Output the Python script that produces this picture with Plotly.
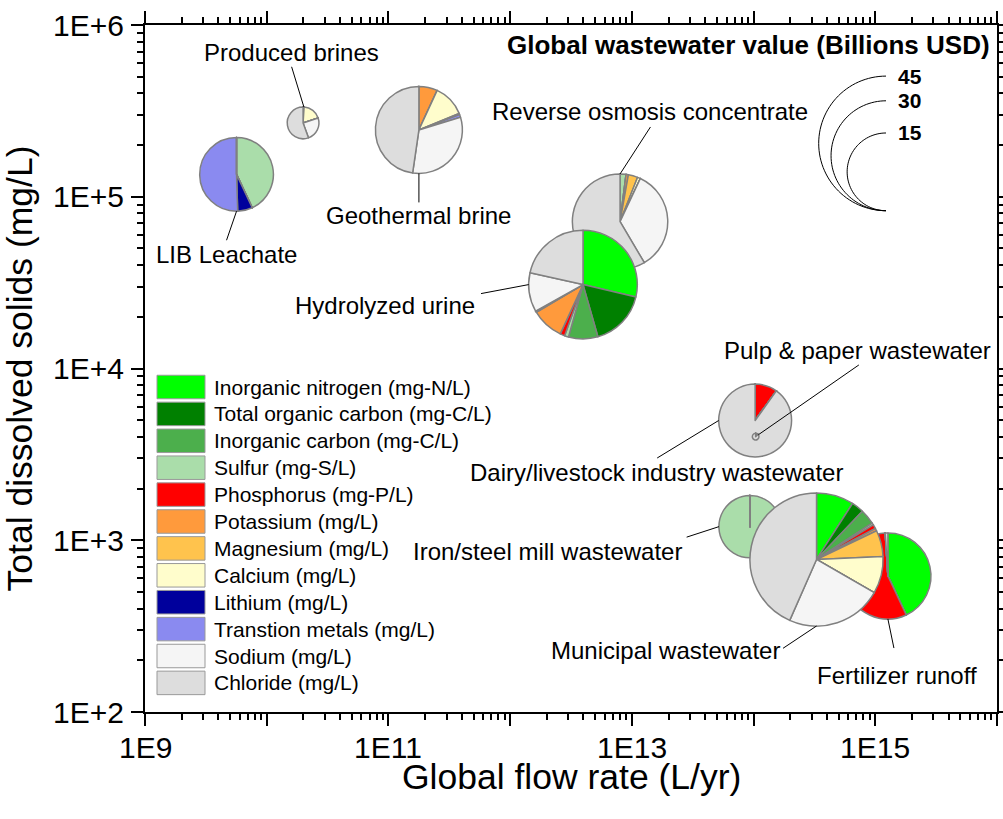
import math
import plotly.graph_objects as go

# ------------------------------------------------------------------ data
components = [
    "Inorganic nitrogen (mg-N/L)", "Total organic carbon (mg-C/L)", "Inorganic carbon (mg-C/L)",
    "Sulfur (mg-S/L)", "Phosphorus (mg-P/L)", "Potassium (mg/L)", "Magnesium (mg/L)",
    "Calcium (mg/L)", "Lithium (mg/L)", "Transtion metals (mg/L)", "Sodium (mg/L)", "Chloride (mg/L)",
]
component_colors = ["#00FF00", "#008000", "#4CAF4C", "#AADDAA", "#FF0000", "#FF9A3C",
                    "#FFC34D", "#FFFDCC", "#00009C", "#8A8AF0", "#F5F5F5", "#DDDDDD"]

# drawing order (later = on top)
sources = ["Produced brines", "LIB Leachate", "Geothermal brine", "Reverse osmosis concentrate",
           "Hydrolyzed urine", "Dairy/livestock industry wastewater", "Pulp & paper wastewater",
           "Iron/steel mill wastewater", "Fertilizer runoff", "Municipal wastewater"]
flow_rate = [1.99e10, 5.65e9, 1.78e11, 8.0e12, 3.97e12, 1.03e14, 1.04e14, 9.35e13, 1.27e15, 3.29e14]  # L/yr
tds = [2.69e5, 1.35e5, 2.45e5, 7.16e4, 3.08e4, 4.98e3, 4.01e3, 1.20e3, 619, 773]  # mg/L
value_busd = [2.5, 13.5, 18.8, 22.6, 29.3, 13.2, 0.11, 9.6, 18.4, 44.0]  # Billions USD

# composition shares (%) in component order
produced_brines = [0, 0, 0, 0, 0, 0.5, 0.5, 19.0, 0, 0, 24.5, 55.5]
lib_leachate = [0, 0, 0, 43.0, 0, 0, 0, 0, 6.5, 50.5, 0, 0]
geothermal_brine = [0, 0, 0, 0, 0, 6.9, 0, 11.9, 0.5, 1.0, 32.0, 47.7]
ro_concentrate = [0, 0, 0, 2.0, 0, 0.8, 3.2, 1.0, 0, 0, 34.5, 58.5]
hydrolyzed_urine = [28.9, 17.1, 8.8, 1.2, 1.4, 9.7, 0.2, 0.2, 0, 0, 11.7, 21.7]
dairy_livestock = [0, 0, 0, 0, 9.9, 0, 0, 0, 0, 0, 0, 90.1]
pulp_paper = [0, 0, 0, 0, 12.0, 0, 0, 0, 0, 0, 0, 88.0]
iron_steel = [0, 0, 0, 99.9, 0, 0, 0, 0, 0, 0, 0, 0.1]
fertilizer_runoff = [43.0, 0, 0, 0, 56.0, 0, 0, 0, 0, 0, 0, 1.0]
municipal_ww = [9.1, 3.0, 3.7, 0.5, 1.0, 0.6, 6.4, 9.0, 0, 0, 23.3, 43.4]
compositions = [produced_brines, lib_leachate, geothermal_brine, ro_concentrate, hydrolyzed_urine,
                dairy_livestock, pulp_paper, iron_steel, fertilizer_runoff, municipal_ww]

size_legend_values = [45, 30, 15]

x_tick_vals = [1e9, 1e10, 1e11, 1e12, 1e13, 1e14, 1e15, 1e16]
x_tick_text = ["1E9", "", "1E11", "", "1E13", "", "1E15", ""]
y_tick_vals = [1e2, 1e3, 1e4, 1e5, 1e6]
y_tick_text = ["1E+2", "1E+3", "1E+4", "1E+5", "1E+6"]

# ------------------------------------------------------------------ layout constants
W, H = 1003, 819
ML, MR, MT, MB = 145, 6, 25, 107
PW, PH = W - ML - MR, H - MT - MB
XR, YR = (9, 16), (2, 6)
R_MAX = 67.3          # pixel radius of a 45 B$ circle
FONT = "Liberation Sans, Arial, sans-serif"

# leader-line geometry (tip angle on the pie edge, line start and text centre offsets in px from tip)
label_geom = {
    "Produced brines": (3, (-12.3, -40.3), (-12, -55)),
    "LIB Leachate": (180, (-10, 29), (-10.5, 43)),
    "Geothermal brine": (180, (0, 29), (0, 42)),
    "Reverse osmosis concentrate": (0, (30.4, -47), (30, -62)),
    "Hydrolyzed urine": (270, (-47.7, 9), (-143.7, 21)),
    "Dairy/livestock industry wastewater": (270, (-61.5, 37.5), (-62.5, 51.5)),
    "Pulp & paper wastewater": (55, (100.5, -69.8), (99.3, -83.8)),
    "Iron/steel mill wastewater": (270, (-32.3, 10.5), (-171.5, 24.5)),
    "Fertilizer runoff": (180, (6, 29), (9.5, 56)),
    "Municipal wastewater": (180, (-33.5, 22.3), (-151, 24)),
}


def radius_px(v):
    return R_MAX * math.sqrt(v / size_legend_values[0])


def data_to_paper(xd, yd):
    return ((math.log10(xd) - XR[0]) / (XR[1] - XR[0]), (math.log10(yd) - YR[0]) / (YR[1] - YR[0]))


def px_to_paper(px, py):
    return ((px - ML) / PW, (MT + PH - py) / PH)


fig = go.Figure()

# invisible anchor points so the cartesian axes exist
fig.add_trace(go.Scatter(x=flow_rate, y=tds, mode="markers", marker=dict(opacity=0, size=1),
                         text=sources, hoverinfo="text", showlegend=False))

shapes = []
annotations = []

for name, fx, ty, val, comp in zip(sources, flow_rate, tds, value_busd, compositions):
    cx, cy = data_to_paper(fx, ty)
    r = radius_px(val)
    dx, dy = r / PW, r / PH
    fig.add_trace(go.Pie(
        labels=components, values=comp, sort=False, direction="clockwise", rotation=0,
        marker=dict(colors=component_colors, line=dict(color="#808080", width=1.5)),
        textinfo="none", hoverinfo="label+percent", showlegend=False, name=name,
        domain=dict(x=[cx - dx, cx + dx], y=[cy - dy, cy + dy]),
    ))
    ang, (sx, sy), (tx, ty_) = label_geom[name]
    tip_x = r * math.sin(math.radians(ang))
    tip_y = -r * math.cos(math.radians(ang))
    px0 = cx + tip_x / PW
    py0 = cy - tip_y / PH
    shapes.append(dict(type="line", xref="paper", yref="paper", layer="above",
                       x0=px0, y0=py0, x1=px0 + sx / PW, y1=py0 - sy / PH,
                       line=dict(color="black", width=1)))
    annotations.append(dict(xref="paper", yref="paper", x=px0 + tx / PW, y=py0 - ty_ / PH,
                            text=name, showarrow=False, xanchor="center", yanchor="middle",
                            font=dict(family=FONT, size=24, color="black")))

# ---- size legend
bx, by = 886, 210.7
for v in size_legend_values:
    r = radius_px(v)
    pts = []
    for k in range(61):
        phi = math.pi * k / 60
        px = bx - r * math.sin(phi)
        py = by - r - r * math.cos(phi)
        pts.append(px_to_paper(px, py))
    path = "M " + " L ".join(f"{p[0]:.5f},{p[1]:.5f}" for p in pts)
    shapes.append(dict(type="path", xref="paper", yref="paper", path=path, layer="above",
                       line=dict(color="black", width=1)))
    lx, ly = px_to_paper(bx + 10, by - 2 * r)
    annotations.append(dict(xref="paper", yref="paper", x=lx, y=ly, text=f"<b>{v}</b>",
                            showarrow=False, xanchor="left", yanchor="middle",
                            font=dict(family=FONT, size=21, color="black")))
tx, ty_ = px_to_paper(748, 45)
annotations.append(dict(xref="paper", yref="paper", x=tx, y=ty_,
                        text="<b>Global wastewater value (Billions USD)</b>", showarrow=False,
                        xanchor="center", yanchor="middle",
                        font=dict(family=FONT, size=26, color="black")))

# ---- colour legend
row0, pitch, sw_h = 387, 26.9, 23.5
for i, (lab, col) in enumerate(zip(components, component_colors)):
    yc = row0 + i * pitch
    x0, y0 = px_to_paper(157, yc - sw_h / 2)
    x1, y1 = px_to_paper(205, yc + sw_h / 2)
    shapes.append(dict(type="rect", xref="paper", yref="paper", x0=x0, y0=y0, x1=x1, y1=y1,
                       fillcolor=col, line=dict(color="#999999", width=1), layer="above"))
    lx, ly = px_to_paper(212, yc)
    annotations.append(dict(xref="paper", yref="paper", x=lx, y=ly, text=lab, showarrow=False,
                            xanchor="left", yanchor="middle",
                            font=dict(family=FONT, size=21, color="black")))

# ---- x tick labels and x title (placed below the axis)
_, y_lab = px_to_paper(0, 748)
for v, t in zip(x_tick_vals, x_tick_text):
    if t:
        annotations.append(dict(xref="x", yref="paper", x=math.log10(v), y=y_lab, text=t,
                                showarrow=False, xanchor="center", yanchor="middle",
                                font=dict(family=FONT, size=30, color="black")))
xt, yt = px_to_paper(0, 777)
annotations.append(dict(xref="paper", yref="paper", x=0.5, y=yt, text="Global flow rate (L/yr)",
                        showarrow=False, xanchor="center", yanchor="middle",
                        font=dict(family=FONT, size=35.5, color="black")))

x_minor = [m * 10 ** k for k in range(9, 16) for m in range(2, 10)]
y_minor = [m * 10 ** k for k in range(2, 6) for m in range(2, 10)]

axis_common = dict(type="log", showgrid=False, zeroline=False, showline=True, linecolor="black",
                   linewidth=2, mirror="ticks", ticks="outside", ticklen=12, tickwidth=2,
                   tickcolor="black", tickfont=dict(family=FONT, size=30, color="black"),
                   tickmode="array", automargin=False)

fig.update_layout(
    width=W, height=H, margin=dict(l=ML, r=MR, t=MT, b=MB),
    paper_bgcolor="white", plot_bgcolor="white", showlegend=False,
    font=dict(family=FONT, color="black"),
    xaxis=dict(**axis_common, range=list(XR), tickvals=x_tick_vals, ticktext=x_tick_text,
               showticklabels=False,
               minor=dict(tickmode="array", tickvals=x_minor, ticks="outside", ticklen=6,
                          tickwidth=1.5, tickcolor="black", showgrid=False)),
    yaxis=dict(**axis_common, range=list(YR), tickvals=y_tick_vals, ticktext=y_tick_text,
               ticklabelstandoff=1,
               minor=dict(tickmode="array", tickvals=y_minor, ticks="outside", ticklen=6,
                          tickwidth=1.5, tickcolor="black", showgrid=False),
               title=dict(text="Total dissolved solids (mg/L)", font=dict(family=FONT, size=35.5),
                          standoff=12)),
    shapes=shapes, annotations=annotations,
)

fig.write_html("out.html", config={"displayModeBar": False},
               post_script="document.body.style.margin='0px';")
